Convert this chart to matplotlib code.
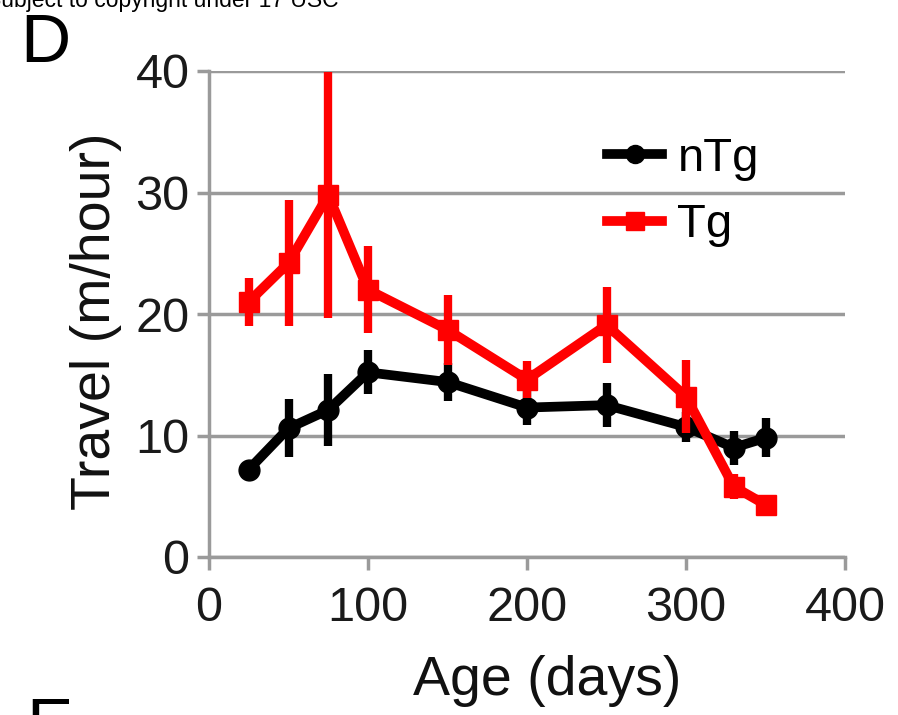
import matplotlib
matplotlib.use("Agg")
import matplotlib.pyplot as plt
from matplotlib.lines import Line2D

plt.rcParams['font.family'] = ['Liberation Sans', 'DejaVu Sans']

age = [25, 50, 75, 100, 150, 200, 250, 300, 330, 350]
ntg = [7.2, 10.6, 12.1, 15.2, 14.4, 12.3, 12.5, 10.7, 9.0, 9.8]
ntg_err = [0.6, 2.4, 3.0, 1.8, 1.6, 1.4, 1.8, 1.2, 1.4, 1.6]
tg = [21.0, 24.2, 29.8, 22.0, 18.7, 14.6, 19.1, 13.2, 5.8, 4.3]
tg_err = [2.0, 5.2, 10.1, 3.6, 2.9, 1.5, 3.1, 3.0, 1.0, 0.8]

RED = '#ff0000'
W, H = 898, 715

fig = plt.figure(figsize=(W/100, H/100), dpi=100)
ax = fig.add_axes([209/W, (H-557)/H, 636/W, 486/H])

ax.errorbar(age, ntg, yerr=ntg_err, color='black', marker='o', markersize=15,
            linewidth=7, elinewidth=6, capsize=0, zorder=3, clip_on=False)
ax.errorbar(age, tg, yerr=tg_err, color=RED, marker='s', markersize=15,
            linewidth=7, elinewidth=6, capsize=0, zorder=4, clip_on=False)

ax.set_xlim(0, 400)
ax.set_ylim(0, 40)
ax.set_xticks([0, 100, 200, 300, 400])
ax.set_yticks([0, 10, 20, 30, 40])
ax.yaxis.grid(True, color='#9a9a9a', linewidth=2.5)
ax.set_axisbelow(True)
for s in ['top', 'right']:
    ax.spines[s].set_visible(False)
for s in ['left', 'bottom']:
    ax.spines[s].set_color('#9a9a9a')
    ax.spines[s].set_linewidth(2.5)
ax.tick_params(axis='both', colors='#9a9a9a', width=2.5, length=9, labelsize=35,
               labelcolor='#1a1a1a')
ax.tick_params(axis='x', pad=12)
ax.tick_params(axis='y', pad=5)

fig.text(547/W, 1 - 695/H, 'Age (days)', fontsize=40, ha='center', va='baseline',
         color='#111111')
fig.text(110/W, 1 - 321/H, 'Travel (m/hour)', fontsize=40, ha='center', va='baseline',
         rotation=90, rotation_mode='anchor', color='#111111')

handles = [Line2D([], [], color='black', marker='o', markersize=13, linewidth=7),
           Line2D([], [], color=RED, marker='s', markersize=13, linewidth=7)]
ax.legend(handles, ['nTg', 'Tg'], loc='upper left', bbox_to_anchor=(0.626, 0.865),
          frameon=False, fontsize=34, handlelength=1.17, handletextpad=0.32,
          labelspacing=0.48, borderaxespad=0, borderpad=0)

fig.text(-14/W, 1 - 7/H, 'Subject to copyright under 17 USC', fontsize=16.5,
         va='baseline', ha='left')
fig.text(20/W, 1 - 62/H, 'D', fontsize=50, va='baseline', ha='left')
fig.text(26/W, 1 - 746/H, 'E', fontsize=50, va='baseline', ha='left')

fig.savefig('out.png', dpi=100)
